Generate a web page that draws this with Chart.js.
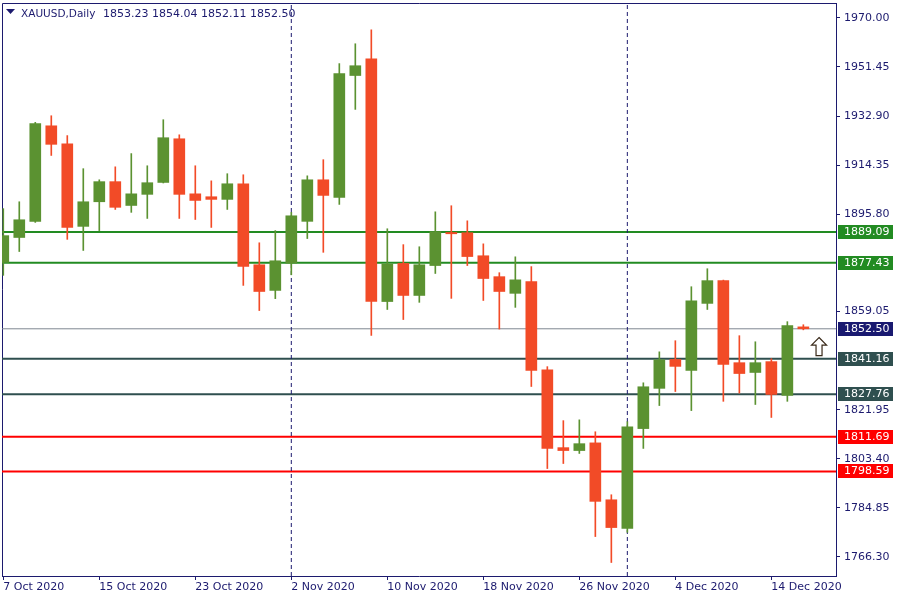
<!DOCTYPE html>
<html>
<head>
<meta charset="utf-8">
<script src="https://cdn.jsdelivr.net/npm/chart.js@4.4.0/dist/chart.umd.min.js"></script>
<style>
html, body { margin: 0; padding: 0; background: #fff; }
#wrap { width: 900px; height: 600px; }
</style>
</head>
<body>
<div id="wrap"><canvas id="myChart" width="900" height="600"></canvas></div>
<script>
const symbolTitle = "XAUUSD,Daily";
const lastBarText = "1853.23 1854.04 1852.11 1852.50";

const dates = [
    "7 Oct 2020", "8 Oct 2020", "9 Oct 2020", "12 Oct 2020", "13 Oct 2020", "14 Oct 2020",
    "15 Oct 2020", "16 Oct 2020", "19 Oct 2020", "20 Oct 2020", "21 Oct 2020", "22 Oct 2020",
    "23 Oct 2020", "26 Oct 2020", "27 Oct 2020", "28 Oct 2020", "29 Oct 2020", "30 Oct 2020",
    "2 Nov 2020", "3 Nov 2020", "4 Nov 2020", "5 Nov 2020", "6 Nov 2020", "9 Nov 2020",
    "10 Nov 2020", "11 Nov 2020", "12 Nov 2020", "13 Nov 2020", "16 Nov 2020", "17 Nov 2020",
    "18 Nov 2020", "19 Nov 2020", "20 Nov 2020", "23 Nov 2020", "24 Nov 2020", "25 Nov 2020",
    "26 Nov 2020", "27 Nov 2020", "30 Nov 2020", "1 Dec 2020", "2 Dec 2020", "3 Dec 2020",
    "4 Dec 2020", "7 Dec 2020", "8 Dec 2020", "9 Dec 2020", "10 Dec 2020", "11 Dec 2020",
    "14 Dec 2020", "15 Dec 2020", "16 Dec 2020"
];

const opens = [1877.6, 1887.0, 1893.1, 1929.2, 1922.4, 1891.2, 1900.5, 1908.1, 1899.1, 1903.3,
    1907.8, 1924.3, 1903.5, 1902.4, 1901.4, 1907.3, 1876.7, 1867.0, 1877.3, 1893.1,
    1908.8, 1902.1, 1948.2, 1954.5, 1862.8, 1877.2, 1865.1, 1876.4, 1888.9, 1888.8,
    1880.1, 1872.2, 1865.9, 1870.3, 1837.0, 1807.6, 1806.5, 1809.4, 1787.9, 1777.1,
    1814.8, 1830.0, 1840.9, 1836.8, 1862.1, 1870.7, 1839.7, 1836.0, 1840.1, 1827.3, 1853.23];
const highs = [1897.9, 1900.5, 1930.5, 1933.0, 1925.5, 1913.0, 1908.8, 1913.7, 1918.7, 1914.1,
    1931.5, 1925.8, 1914.1, 1908.4, 1911.1, 1910.7, 1885.0, 1889.6, 1896.5, 1910.3,
    1916.4, 1952.7, 1960.2, 1965.5, 1890.3, 1884.3, 1883.5, 1896.7, 1899.0, 1893.3,
    1884.6, 1873.7, 1879.7, 1876.0, 1838.2, 1817.8, 1818.1, 1813.6, 1789.8, 1817.4,
    1832.1, 1843.8, 1848.0, 1868.4, 1875.2, 1870.9, 1849.9, 1847.6, 1841.2, 1855.2, 1854.04];
const lows = [1872.7, 1881.7, 1892.7, 1918.0, 1886.3, 1882.1, 1889.6, 1897.6, 1896.5, 1894.2,
    1907.6, 1894.2, 1893.8, 1890.8, 1897.6, 1868.9, 1859.4, 1863.9, 1872.9, 1886.6,
    1881.4, 1899.5, 1935.4, 1850.0, 1859.8, 1856.0, 1862.5, 1873.4, 1864.0, 1876.4,
    1863.2, 1852.4, 1860.6, 1830.7, 1799.7, 1801.6, 1805.4, 1774.0, 1764.2, 1775.6,
    1807.3, 1823.5, 1828.8, 1821.6, 1859.8, 1825.1, 1828.2, 1823.9, 1819.0, 1825.1, 1852.11];
const closes = [1887.7, 1893.7, 1930.0, 1922.2, 1890.8, 1900.5, 1908.1, 1898.4, 1903.5, 1907.7,
    1924.7, 1903.3, 1901.0, 1901.4, 1907.3, 1876.1, 1866.6, 1878.2, 1895.2, 1908.8,
    1902.9, 1948.9, 1951.9, 1862.8, 1877.0, 1865.1, 1876.7, 1889.2, 1888.4, 1879.8,
    1871.5, 1866.6, 1871.0, 1836.8, 1807.3, 1806.5, 1809.1, 1787.3, 1777.4, 1815.5,
    1830.6, 1840.8, 1838.3, 1863.1, 1870.7, 1839.0, 1835.6, 1839.7, 1827.7, 1853.7, 1852.50];

const xTickIdx = [0, 6, 12, 18, 24, 30, 36, 42, 48];
const separatorIdx = [18, 39];
const yTicks = [1970.00, 1951.45, 1932.90, 1914.35, 1895.80, 1859.05, 1821.95, 1803.40, 1784.85, 1766.30];

const levels = [1889.09, 1877.43, 1841.16, 1827.76, 1811.69, 1798.59];
const levelColors = ["#228b22", "#228b22", "#2f4f4f", "#2f4f4f", "#ff0000", "#ff0000"];
const bidPrice = 1852.50;
const arrowAt = { x: 50.98, y: 1849.2 };

const X_MIN = -0.08, X_MAX = 52.04;
const Y_MIN = 1759.1, Y_MAX = 1975.6;

const NAVY = "#1c1a6e";
const BULL = "#5b9231";
const BEAR = "#f24b27";
const FONT = "DejaVu Sans";

const candleColors = closes.map((c, i) => c >= opens[i] ? BULL : BEAR);

function hLine(value, color, width) {
    return {
        type: 'line',
        data: [{ x: X_MIN, y: value }, { x: X_MAX, y: value }],
        borderColor: color,
        borderWidth: width,
        pointRadius: 0,
        clip: 0,
        order: 5
    };
}

function vLine(idx) {
    return {
        type: 'line',
        data: [{ x: idx, y: Y_MIN }, { x: idx, y: Y_MAX }],
        borderColor: NAVY,
        borderWidth: 1,
        borderDash: [4, 3],
        pointRadius: 0,
        clip: 0,
        order: 4
    };
}

const framePlugin = {
    id: 'frame',
    beforeDatasetsDraw(chart) {
        const { ctx, chartArea } = chart;
        ctx.save();
        ctx.strokeStyle = NAVY;
        ctx.lineWidth = 1;
        ctx.beginPath();
        ctx.moveTo(chartArea.left + 0.5, chartArea.bottom);
        ctx.lineTo(chartArea.left + 0.5, chartArea.top + 0.5);
        ctx.lineTo(chartArea.right, chartArea.top + 0.5);
        ctx.stroke();
        ctx.restore();
    }
};

const priceLabelPlugin = {
    id: 'priceLabels',
    afterDraw(chart) {
        const { ctx, chartArea } = chart;
        const y = chart.scales.y;
        const boxes = levels.map((v, i) => ({ v, c: levelColors[i] }));
        boxes.push({ v: bidPrice, c: "#191970" });
        ctx.save();
        ctx.font = "11px '" + FONT + "'";
        ctx.textBaseline = 'middle';
        ctx.textAlign = 'left';
        boxes.forEach(b => {
            const py = Math.round(y.getPixelForValue(b.v));
            ctx.fillStyle = b.c;
            ctx.fillRect(chartArea.right + 2, py - 7, 55, 14);
            ctx.fillStyle = "#ffffff";
            ctx.fillText(b.v.toFixed(2), chartArea.right + 8, py + 0.5);
        });

        // header in the top-left corner
        ctx.fillStyle = NAVY;
        ctx.beginPath();
        ctx.moveTo(6, 9);
        ctx.lineTo(15, 9);
        ctx.lineTo(10.5, 14);
        ctx.closePath();
        ctx.fill();
        ctx.textBaseline = 'alphabetic';
        ctx.font = "10.5px '" + FONT + "'";
        ctx.fillText(symbolTitle, 21, 17);
        ctx.font = "11px '" + FONT + "'";
        ctx.fillText(lastBarText, 103, 17);

        // up arrow drawn next to the last bar
        const ax = chart.scales.x.getPixelForValue(arrowAt.x);
        const ay = y.getPixelForValue(arrowAt.y);
        ctx.beginPath();
        ctx.moveTo(ax, ay);
        ctx.lineTo(ax + 7.5, ay + 7.5);
        ctx.lineTo(ax + 3, ay + 7.5);
        ctx.lineTo(ax + 3, ay + 18);
        ctx.lineTo(ax - 3, ay + 18);
        ctx.lineTo(ax - 3, ay + 7.5);
        ctx.lineTo(ax - 7.5, ay + 7.5);
        ctx.closePath();
        ctx.fillStyle = "#ffffff";
        ctx.fill();
        ctx.strokeStyle = "#3a2a1a";
        ctx.lineWidth = 1.2;
        ctx.stroke();
        ctx.restore();
    }
};

const datasets = [
    {
        type: 'bar',
        label: 'wicks',
        data: dates.map((d, i) => ({ x: i, y: [lows[i], highs[i]] })),
        backgroundColor: candleColors,
        barThickness: 1,
        grouped: false,
        clip: 0,
        order: 1
    },
    {
        type: 'bar',
        label: 'bodies',
        data: dates.map((d, i) => ({ x: i, y: [opens[i], closes[i]] })),
        backgroundColor: candleColors,
        barThickness: 11,
        minBarLength: 1,
        grouped: false,
        clip: 0,
        order: 0
    },
    hLine(bidPrice, "#7f8791", 1)
];
levels.forEach((v, i) => datasets.push(hLine(v, levelColors[i], 2)));
separatorIdx.forEach(idx => datasets.push(vLine(idx)));

new Chart(document.getElementById("myChart"), {
    type: 'bar',
    data: { datasets },
    options: {
        responsive: false,
        animation: false,
        events: [],
        layout: { padding: { left: 2, top: 3, right: 0, bottom: 0 } },
        plugins: {
            legend: { display: false },
            tooltip: { enabled: false }
        },
        scales: {
            x: {
                type: 'linear',
                position: 'bottom',
                offset: false,
                min: X_MIN,
                max: X_MAX,
                afterBuildTicks: scale => { scale.ticks = xTickIdx.map(v => ({ value: v })); },
                afterFit: scale => { scale.height = 24; scale.paddingLeft = 0; scale.paddingRight = 0; },
                grid: { offset: false, drawOnChartArea: false, color: NAVY, tickLength: 4 },
                border: { display: true, color: NAVY },
                ticks: {
                    align: 'start',
                    autoSkip: false,
                    maxRotation: 0,
                    padding: 1,
                    color: NAVY,
                    font: { family: FONT, size: 11 },
                    callback: v => dates[v]
                }
            },
            y: {
                type: 'linear',
                position: 'right',
                min: Y_MIN,
                max: Y_MAX,
                afterBuildTicks: scale => { scale.ticks = yTicks.map(v => ({ value: v })); },
                afterFit: scale => { scale.width = 64; scale.paddingTop = 0; scale.paddingBottom = 0; },
                grid: { drawOnChartArea: false, color: NAVY, tickLength: 4 },
                border: { display: true, color: NAVY },
                ticks: {
                    padding: 4,
                    color: NAVY,
                    font: { family: FONT, size: 11 },
                    callback: v => v.toFixed(2)
                }
            }
        }
    },
    plugins: [framePlugin, priceLabelPlugin]
});
</script>
</body>
</html>
